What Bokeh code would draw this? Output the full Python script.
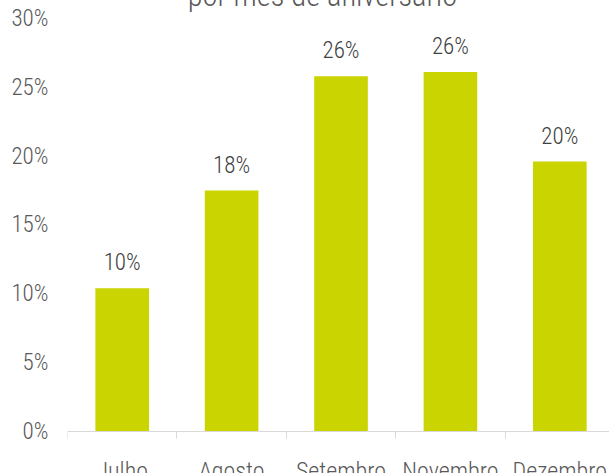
from bokeh.plotting import figure
from bokeh.models import Range1d, FixedTicker, PrintfTickFormatter, ColumnDataSource, LabelSet
from bokeh.core.properties import value
from bokeh.embed import file_html
from bokeh.resources import INLINE

categories = ["Julho", "Agosto", "Setembro", "Novembro", "Dezembro"]
values = [10.4, 17.5, 25.8, 26.1, 19.6]
value_labels = ["10%", "18%", "26%", "26%", "20%"]
y_ticks = [0, 5, 10, 15, 20, 25, 30]
title_text = "por mês de aniversário"

FONT = "Roboto Condensed Light"

# layout constants (page pixels)
FIG_TOP = -9        # where the figure's top lands on the page
FIG_H = 483
ZERO_Y = 432        # page y of the 0% baseline
PX_PER = 13.77      # pixels per percentage point
y_start = -(FIG_TOP + FIG_H - ZERO_Y) / PX_PER
y_end = (ZERO_Y - FIG_TOP) / PX_PER

centers = [i + 0.5 for i in range(len(categories))]
bounds = list(range(len(categories) + 1))
src = ColumnDataSource(dict(x=centers, top=values, lab=value_labels))

p = figure(width=609, height=FIG_H, output_backend="svg", toolbar_location=None,
           x_range=Range1d(0, 4.954), y_range=Range1d(y_start, y_end),
           min_border_left=67, min_border_right=0, min_border_top=0, min_border_bottom=0)
p.styles = {"margin-top": "-10px", "margin-bottom": "-10px"}
p.outline_line_color = None
p.xgrid.visible = False
p.ygrid.visible = False

p.vbar(x="x", top="top", bottom=0, width=0.49, source=src, fill_color="#C9D400", line_color=None)

# x axis sits at 0%: boundary ticks, category names at centres
xa = p.xaxis[0]
xa.fixed_location = 0
xa.ticker = FixedTicker(ticks=centers, minor_ticks=bounds)
xa.major_label_overrides = {c: n for c, n in zip(centers, categories)}
xa.major_tick_line_color = None
xa.major_tick_in = 0
xa.major_tick_out = 0
xa.minor_tick_in = 0
xa.minor_tick_out = 7
xa.minor_tick_line_color = "#D9D9D9"
xa.axis_line_color = "#D9D9D9"
xa.major_label_standoff = 18
xa.major_label_text_font = FONT
xa.major_label_text_font_size = "24px"
xa.major_label_text_color = "#595959"

# y axis
ya = p.yaxis[0]
ya.ticker = FixedTicker(ticks=y_ticks)
ya.formatter = PrintfTickFormatter(format="%d%%")
ya.axis_line_color = None
ya.major_tick_line_color = None
ya.minor_tick_line_color = None
ya.major_tick_out = 0
ya.major_label_standoff = 19
ya.major_label_text_font = FONT
ya.major_label_text_font_size = "23px"
ya.major_label_text_color = "#595959"

p.add_layout(LabelSet(x="x", y="top", text="lab", source=src, text_align="center",
                      text_baseline="alphabetic", y_offset=18, text_font_size="23px",
                      text_color="#404040", text_font=value(FONT)))

# chart title, mostly above the visible page
title_y = (ZERO_Y + 4) / PX_PER
p.text(x=[2.33], y=[title_y], text=[title_text], text_align="center",
       text_baseline="alphabetic", text_font_size="30.5px", text_color="#595959",
       text_font=value(FONT))

open("out.html", "w").write(file_html(p, INLINE))
